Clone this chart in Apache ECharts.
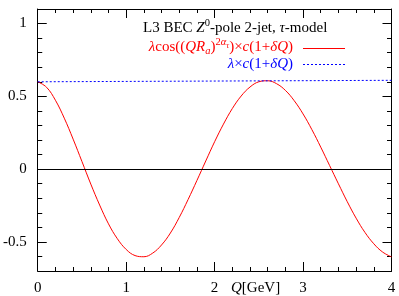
<!DOCTYPE html>
<html>
<head>
<meta charset="utf-8">
<script src="https://cdn.jsdelivr.net/npm/echarts@6/dist/echarts.min.js"></script>
<style>
html,body{margin:0;padding:0;background:#fff;}
#chart{width:399px;height:296px;}
</style>
</head>
<body>
<div id="chart"></div>
<script>
// ---- data ----
const qValues = [0.0,0.1,0.2,0.3,0.4,0.5,0.6,0.7,0.8,0.9,1.0,1.1,1.2,1.3,1.4,1.5,1.6,1.7,1.8,1.9,2.0,
                 2.1,2.2,2.3,2.4,2.5,2.6,2.7,2.8,2.9,3.0,3.1,3.2,3.3,3.4,3.5,3.6,3.7,3.8,3.9,4.0];
const modelValues = [0.600,0.562,0.473,0.350,0.206,0.052,-0.103,-0.247,-0.376,-0.478,-0.552,
                     -0.594,-0.602,-0.577,-0.521,-0.439,-0.332,-0.209,-0.078,0.056,0.188,
                     0.309,0.416,0.502,0.564,0.600,0.607,0.587,0.541,0.470,0.379,
                     0.271,0.151,0.025,-0.101,-0.224,-0.337,-0.435,-0.513,-0.570,-0.603];
const flatQ = [0.0, 4.0];
const flatValues = [0.600, 0.610];
const yMajorTicks = [-0.5, 0, 0.5, 1];
const yTickLabels = ['-0.5', '0', '0.5', '1'];
const xTickLabels = ['0', '1', '2', '3', '4'];

const FONT = '"Liberation Serif","DejaVu Serif",serif';

const modelData = qValues.map((q, i) => [q, modelValues[i]]);
const flatData = flatQ.map((q, i) => [q, flatValues[i]]);

// ---- rich text helper (measures pieces, places them one after another) ----
const measureCtx = document.createElement('canvas').getContext('2d');
function textPieces(pieces, x0, baseline, color, align) {
  const items = pieces.map(p => {
    const size = p.s || 15;
    const font = (p.i ? 'italic ' : '') + size + 'px ' + FONT;
    measureCtx.font = font;
    return Object.assign({}, p, {size, font, w: measureCtx.measureText(p.t).width});
  });
  const total = items.reduce((a, b) => a + b.w, 0);
  let x = align === 'right' ? x0 - total : x0;
  const out = [];
  items.forEach(it => {
    const base = baseline - (it.dy || 0);
    out.push({
      type: 'text', x: x, y: base - 0.34 * it.size, z: 10, silent: true,
      style: {text: it.t, font: it.font, fill: color, align: 'left', verticalAlign: 'middle'}
    });
    x += it.w;
  });
  return out;
}

const graphics = [].concat(
  textPieces([
    {t: 'L3 BEC '}, {t: 'Z', i: 1}, {t: '0', s: 10.5, dy: 6}, {t: '-pole 2-jet, '},
    {t: 'τ', i: 1}, {t: '-model'}
  ], 143, 33, '#000', 'left'),
  textPieces([
    {t: 'λ', i: 1}, {t: 'cos(('}, {t: 'QR', i: 1}, {t: 'a', i: 1, s: 10.5, dy: -3},
    {t: ')'}, {t: '2', s: 10.5, dy: 6}, {t: 'α', i: 1, s: 10.5, dy: 6},
    {t: 'τ', i: 1, s: 8, dy: 3}, {t: ')×'}, {t: 'c', i: 1}, {t: '(1+'},
    {t: 'δQ', i: 1}, {t: ')'}
  ], 293, 52, '#ff0000', 'right'),
  textPieces([
    {t: 'λ', i: 1}, {t: '×'}, {t: 'c', i: 1}, {t: '(1+'}, {t: 'δQ', i: 1}, {t: ')'}
  ], 293, 69, '#0000ff', 'right'),
  textPieces([{t: 'Q', i: 1}, {t: '[GeV]'}], 231, 293, '#000', 'left'),
  [
    {type: 'line', silent: true, z: 10, shape: {x1: 303, y1: 48.5, x2: 345, y2: 48.5},
     style: {stroke: '#ff0000', lineWidth: 1}},
    {type: 'line', silent: true, z: 10, shape: {x1: 303, y1: 64.5, x2: 345, y2: 64.5},
     style: {stroke: '#0000ff', lineWidth: 1, lineDash: [2, 2]}}
  ]
);

const axisLineStyle = {show: true, onZero: false, lineStyle: {color: '#000', width: 1}};

function xAxisDef(pos, showLabels) {
  return {
    type: 'value', position: pos, min: 0, max: 4, interval: 1,
    axisLine: axisLineStyle,
    axisTick: {show: true, inside: true, length: 9, lineStyle: {color: '#000'}},
    minorTick: {show: true, splitNumber: 5, length: 4, lineStyle: {color: '#000'}},
    splitLine: {show: false}, minorSplitLine: {show: false},
    axisLabel: {show: showLabels, margin: 10, fontSize: 15, fontFamily: FONT, color: '#000',
                formatter: v => xTickLabels[Math.round(v)] || ''}
  };
}
function yMinorDef(pos) {
  return {
    type: 'value', position: pos, min: -0.7, max: 1.1, interval: 0.1,
    axisLine: axisLineStyle,
    axisTick: {show: true, inside: true, length: 4.5, lineStyle: {color: '#000'}},
    splitLine: {show: false}, axisLabel: {show: false}
  };
}
function yMajorDef(pos, showLabels) {
  return {
    type: 'value', position: pos, min: -0.7, max: 1.1,
    axisLine: {show: false, onZero: false},
    axisTick: {show: true, inside: true, length: 9, customValues: yMajorTicks, lineStyle: {color: '#000'}},
    splitLine: {show: false},
    axisLabel: {show: showLabels, margin: 11, fontSize: 15, fontFamily: FONT, color: '#000',
                customValues: yMajorTicks,
                formatter: v => { const k = yMajorTicks.findIndex(t => Math.abs(t - v) < 1e-6); return k >= 0 ? yTickLabels[k] : ''; }}
  };
}

const chart = echarts.init(document.getElementById('chart'), null, {renderer: 'canvas'});
chart.setOption({
  animation: false,
  backgroundColor: '#fff',
  grid: {left: 36, right: 7.5, top: 9, bottom: 24, containLabel: false},
  xAxis: [xAxisDef('bottom', true), xAxisDef('top', false)],
  yAxis: [yMinorDef('left'), yMajorDef('left', true), yMinorDef('right'), yMajorDef('right', false)],
  series: [
    {
      name: 'model', type: 'line', xAxisIndex: 0, yAxisIndex: 0, data: modelData,
      smooth: 0.4, showSymbol: false, symbol: 'none',
      lineStyle: {color: '#ff0000', width: 1},
      markLine: {silent: true, symbol: ['none', 'none'], label: {show: false},
                 lineStyle: {color: '#000', width: 1, type: 'solid'},
                 data: [{yAxis: 0}]}
    },
    {
      name: 'flat', type: 'line', xAxisIndex: 0, yAxisIndex: 0, data: flatData,
      showSymbol: false, symbol: 'none',
      lineStyle: {color: '#0000ff', width: 1, type: [2, 2]}
    }
  ],
  graphic: graphics
});
</script>
</body>
</html>
